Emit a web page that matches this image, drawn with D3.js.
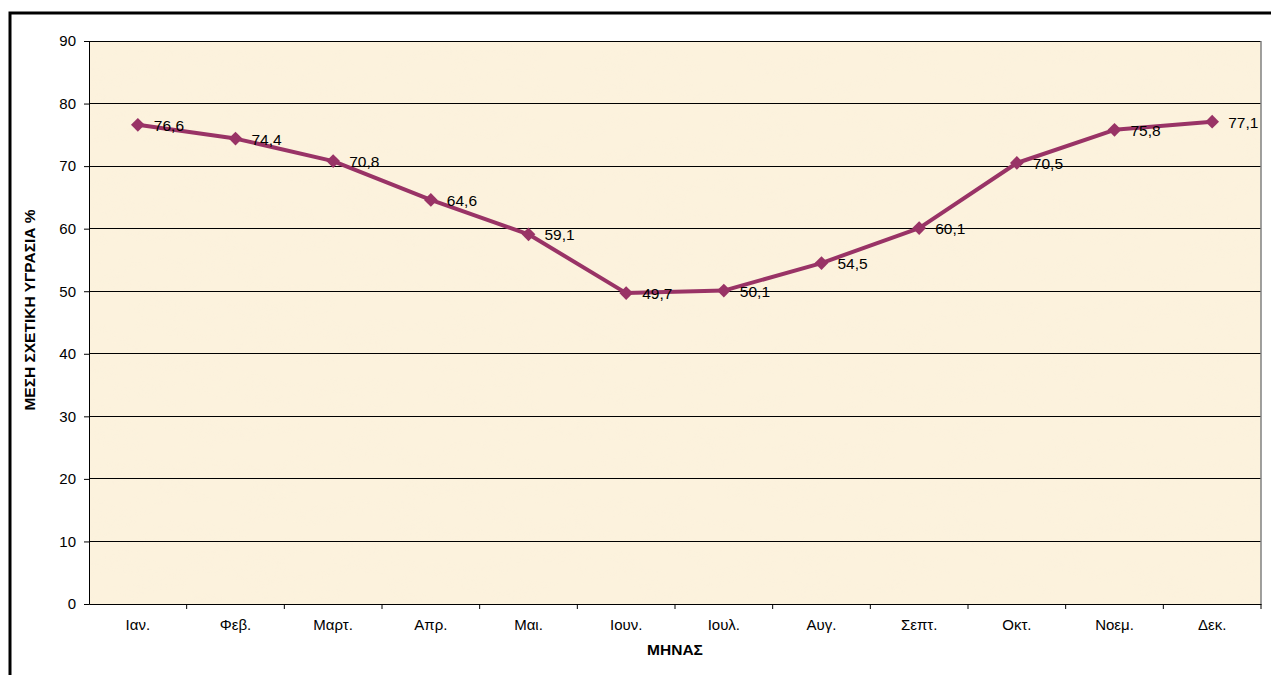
<!DOCTYPE html>
<html>
<head>
<meta charset="utf-8">
<script src="https://cdn.jsdelivr.net/npm/d3@7"></script>
<style>
  body { margin: 0; background: #fff; }
  #chart { width: 1271px; height: 675px; }
  text { font-family: Arial, "Liberation Sans", sans-serif; fill: #000; }
</style>
</head>
<body>
<div id="chart"></div>
<script>
// Δεδομένα
const months = ['Ιαν.', 'Φεβ.', 'Μαρτ.', 'Απρ.', 'Μαι.', 'Ιουν.', 'Ιουλ.', 'Αυγ.', 'Σεπτ.', 'Οκτ.', 'Νοεμ.', 'Δεκ.'];
const humidity = [76.6, 74.4, 70.8, 64.6, 59.1, 49.7, 50.1, 54.5, 60.1, 70.5, 75.8, 77.1];
const yTicks = [0, 10, 20, 30, 40, 50, 60, 70, 80, 90];

const LINE_COLOR = '#993366';

let margin = {top: 41, right: 10, bottom: 71, left: 89},
    width = 1261 - margin.left,
    height = 604 - margin.top;

let root = d3.select('#chart').append('svg')
    .attr('width', 1271).attr('height', 675);

// Textura χαρτιού
let defs = root.append('defs');
let filt = defs.append('filter').attr('id', 'paper')
    .attr('x', 0).attr('y', 0).attr('width', '100%').attr('height', '100%');
filt.append('feTurbulence').attr('type', 'fractalNoise')
    .attr('baseFrequency', '0.02 0.05').attr('numOctaves', 4).attr('seed', 7).attr('result', 'n');
filt.append('feColorMatrix').attr('in', 'n').attr('type', 'matrix')
    .attr('values', '0 0 0 0 0.96  0 0 0 0 0.88  0 0 0 0 0.72  1.2 0 0 0 -0.45')
    .attr('result', 'c');
filt.append('feComposite').attr('in', 'c').attr('in2', 'SourceGraphic').attr('operator', 'in');

// Πλαίσιο
root.append('rect')
    .attr('x', 10).attr('y', 13).attr('width', 1280).attr('height', 700)
    .attr('fill', 'none').attr('stroke', '#000').attr('stroke-width', 3);

let svg = root.append('g')
    .attr('transform', 'translate(' + margin.left + ',' + margin.top + ')');

svg.append('rect')
    .attr('width', width).attr('height', height)
    .attr('fill', '#FCF2DD');
svg.append('rect')
    .attr('width', width).attr('height', height)
    .attr('fill', '#FCF2DD')
    .attr('filter', 'url(#paper)')
    .attr('opacity', 0.35);

let x = d3.scaleBand().domain(months).range([0, width]);
let y = d3.scaleLinear().domain([0, 90]).range([height, 0]);

// Γραμμές πλέγματος
svg.append('g')
    .selectAll('line')
    .data(yTicks.filter(d => d > 0))
    .enter().append('line')
    .attr('x1', 0).attr('x2', width)
    .attr('y1', d => y(d)).attr('y2', d => y(d))
    .attr('stroke', '#000').attr('stroke-width', 1)
    .attr('shape-rendering', 'crispEdges');

// Δεξί περίγραμμα
svg.append('line')
    .attr('x1', width).attr('x2', width).attr('y1', 0).attr('y2', height)
    .attr('stroke', '#808080').attr('stroke-width', 1.5);

// Άξονας Y
let yAxis = svg.append('g')
    .call(d3.axisLeft(y).tickValues(yTicks).tickSize(5).tickPadding(8));
yAxis.selectAll('text').style('font-size', '15px').style('font-family', 'Arial, "Liberation Sans", sans-serif');
yAxis.selectAll('line,path').attr('stroke', '#000');

// Άξονας X
let xAxis = svg.append('g')
    .attr('transform', 'translate(0,' + height + ')')
    .call(d3.axisBottom(x).tickSize(0).tickPadding(15));
xAxis.selectAll('text').style('font-size', '15px').style('font-family', 'Arial, "Liberation Sans", sans-serif');
xAxis.select('path').attr('stroke', '#000');
xAxis.selectAll('.sep')
    .data(months.slice(1).concat(['end']))
    .enter().append('line')
    .attr('class', 'sep')
    .attr('x1', (d, i) => x(months[0]) + x.bandwidth() * (i + 1))
    .attr('x2', (d, i) => x(months[0]) + x.bandwidth() * (i + 1))
    .attr('y1', 0).attr('y2', 5)
    .attr('stroke', '#000');

// Τίτλοι αξόνων
root.append('text')
    .attr('x', margin.left + width / 2).attr('y', 655)
    .attr('text-anchor', 'middle')
    .style('font-size', '15.5px').style('font-weight', 'bold')
    .text('ΜΗΝΑΣ');

root.append('text')
    .attr('transform', 'translate(35,310) rotate(-90)')
    .attr('text-anchor', 'middle')
    .style('font-size', '15.5px').style('font-weight', 'bold')
    .text('ΜΕΣΗ ΣΧΕΤΙΚΗ ΥΓΡΑΣΙΑ %');

// Γραμμή
let line = d3.line()
    .x((d, i) => x(months[i]) + x.bandwidth() / 2)
    .y(d => y(d));

svg.append('path')
    .datum(humidity)
    .attr('d', line)
    .attr('fill', 'none')
    .attr('stroke', LINE_COLOR)
    .attr('stroke-width', 4)
    .attr('stroke-linejoin', 'round');

// Σημάδια
svg.selectAll('.marker')
    .data(humidity)
    .enter().append('path')
    .attr('class', 'marker')
    .attr('d', d3.symbol().type(d3.symbolDiamond2).size(120))
    .attr('transform', (d, i) => 'translate(' + (x(months[i]) + x.bandwidth() / 2) + ',' + y(d) + ')')
    .attr('fill', LINE_COLOR);

// Ετικέτες
svg.selectAll('.lbl')
    .data(humidity)
    .enter().append('text')
    .attr('class', 'lbl')
    .attr('x', (d, i) => x(months[i]) + x.bandwidth() / 2 + 16)
    .attr('y', d => y(d) + 6)
    .style('font-size', '15.5px')
    .text(d => String(d.toFixed(1)).replace('.', ','));
</script>
</body>
</html>
